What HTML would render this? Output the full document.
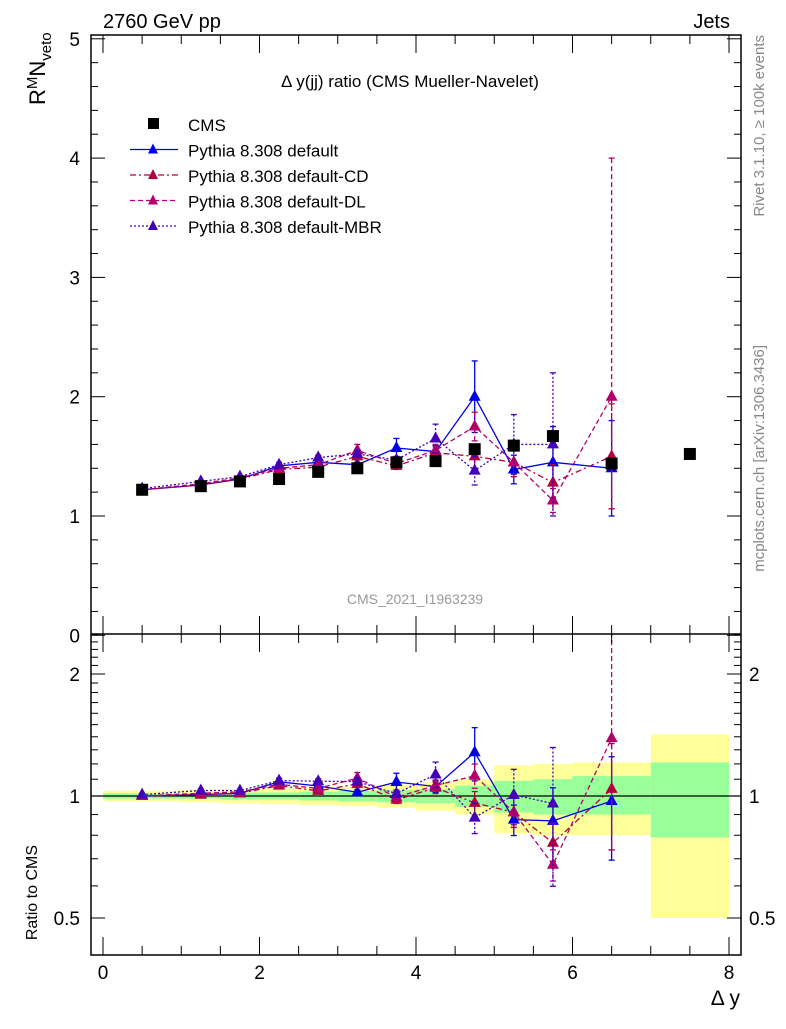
<!DOCTYPE html>
<html><head><meta charset="utf-8"><style>
body{margin:0;background:#fff}
svg text{font-family:"Liberation Sans",sans-serif}
</style></head><body>
<svg id="c" width="786" height="1024" xmlns="http://www.w3.org/2000/svg"></svg>
<script>
const xs=[0.5,1.25,1.75,2.25,2.75,3.25,3.75,4.25,4.75,5.25,5.75,6.5,7.5];
const edges=[0,1,1.5,2,2.5,3,3.5,4,4.5,5,5.5,6,7,8];
const cms=[1.22,1.25,1.29,1.31,1.37,1.40,1.45,1.46,1.56,1.59,1.67,1.44,1.52];
const yellowHi=[0.03,0.035,0.04,0.045,0.05,0.055,0.065,0.08,0.10,0.19,0.20,0.21,0.42];
const yellowLo=[0.03,0.035,0.04,0.045,0.05,0.055,0.065,0.08,0.10,0.19,0.20,0.20,0.50];
const greenHi=[0.015,0.015,0.02,0.02,0.025,0.03,0.035,0.04,0.06,0.09,0.10,0.12,0.21];
const greenLo=[0.015,0.015,0.02,0.02,0.025,0.03,0.035,0.04,0.06,0.09,0.10,0.10,0.21];
const defV=[1.22,1.26,1.31,1.42,1.45,1.43,1.57,1.54,2.00,1.39,1.45,1.40];
const defE=[0.01,0.01,0.01,0.02,0.02,0.02,0.08,0.05,0.30,0.12,0.30,0.40];
const cdV=[1.22,1.26,1.31,1.39,1.41,1.50,1.42,1.53,1.50,1.45,1.28,1.50];
const cdE=[0.01,0.01,0.01,0.02,0.02,0.03,0.03,0.05,0.10,0.12,0.15,0.44];
const dlV=[1.22,1.27,1.32,1.40,1.43,1.55,1.44,1.55,1.75,1.45,1.13,2.00];
const dlE=[0.01,0.01,0.01,0.02,0.02,0.05,0.03,0.05,0.12,0.12,0.10,0.94];
const dlEhi=[0.01,0.01,0.01,0.02,0.02,0.05,0.03,0.05,0.12,0.12,0.10,2.00];
const mbrV=[1.23,1.29,1.33,1.43,1.49,1.52,1.47,1.65,1.38,1.60,1.60];
const mbrE=[0.01,0.01,0.01,0.02,0.02,0.03,0.03,0.12,0.12,0.25,0.60];

const S=document.getElementById('c');const NS='http://www.w3.org/2000/svg';
function el(t,a,p){const e=document.createElementNS(NS,t);for(const k in a)e.setAttribute(k,a[k]);(p||S).appendChild(e);return e;}
const L=91,R=741,T=35,M=634,B=955;
const X=v=>103+v*78.25;
const Y=v=>635.3-v*119.3;
const YR=v=>796-Math.log2(v)*122;
const clipT=el('clipPath',{id:'ct'});el('rect',{x:L,y:T,width:R-L,height:M-T},clipT);
const clipB=el('clipPath',{id:'cb'});el('rect',{x:L,y:M,width:R-L,height:B-M},clipB);

// bands
const gb=el('g',{'clip-path':'url(#cb)'});

for(let i=0;i<xs.length;i++){
 const x0=X(edges[i]),x1=X(edges[i+1]);
 const y=el('rect',{x:x0,y:YR(1+yellowHi[i]),width:x1-x0,height:YR(1-yellowLo[i])-YR(1+yellowHi[i]),fill:'#ffff99'},gb);
 
 const g=el('rect',{x:x0,y:YR(1+greenHi[i]),width:x1-x0,height:YR(1-greenLo[i])-YR(1+greenHi[i]),fill:'#99ff99'},gb);
 
}
el('line',{x1:L,x2:R,y1:YR(1),y2:YR(1),stroke:'#000','stroke-width':1.2},gb);

function series(name,vals,errLo,errHi,color,dash,ratio){
 const g=el('g',{'clip-path':ratio?'url(#cb)':'url(#ct)'});
 
 const f=(v,i)=>ratio?YR(v/cms[i]):Y(v);
 let d='';vals.forEach((v,i)=>{d+=(i?'L':'M')+X(xs[i])+','+f(v,i);});
 el('path',{d,fill:'none',stroke:color,'stroke-width':1.3,'stroke-dasharray':dash},g);
 vals.forEach((v,i)=>{
  const x=X(xs[i]),yt=f(v+errHi[i],i),yb=f(Math.max(v-errLo[i],0.01),i),y=f(v,i);
  el('line',{x1:x,x2:x,y1:yt,y2:yb,stroke:color,'stroke-width':1.3,'stroke-dasharray':dash},g);
  el('line',{x1:x-3,x2:x+3,y1:yt,y2:yt,stroke:color,'stroke-width':1.3},g);
  el('line',{x1:x-3,x2:x+3,y1:yb,y2:yb,stroke:color,'stroke-width':1.3},g);
  const m=el('path',{d:`M${x},${y-7}L${x+6},${y+4}L${x-6},${y+4}Z`,fill:color},g);
  
 });
}
const cB='#0000e6',cCD='#b3003c',cDL='#b3006b',cMB='#4400b8';
[false,true].forEach(r=>{
 series('default',defV,defE,defE,cB,'',r);
 series('default-cd',cdV,cdE,cdE,cCD,'6,3,2,3',r);
 series('default-dl',dlV,dlE,dlEhi,cDL,'5,3',r);
 series('default-mbr',mbrV,mbrE,mbrE,cMB,'2,2',r);
});
const gc=el('g',{});
cms.forEach((v,i)=>{const r=el('rect',{x:X(xs[i])-6,y:Y(v)-6,width:12,height:12,fill:'#000'},gc);
 });

// frames & ticks
el('rect',{x:L,y:T,width:R-L,height:B-T,fill:'none',stroke:'#000','stroke-width':1.5});
el('line',{x1:L,x2:R,y1:M,y2:M,stroke:'#000','stroke-width':1.5});
function txt(s,x,y,size,anchor,extra){const t=el('text',Object.assign({x,y,'font-size':size,'text-anchor':anchor||'start'},extra||{}));t.textContent=s;return t;}
for(let v=0;v<=5.001;v+=0.2){const y=Y(v);const maj=Math.abs(v-Math.round(v))<1e-6;const w=maj?14:7;
 el('line',{x1:L,x2:L+w,y1:y,y2:y,stroke:'#000'});el('line',{x1:R,x2:R-w,y1:y,y2:y,stroke:'#000'});
 if(maj&&y>T-3){const t=txt(String(Math.round(v)),80,y+7,19,'end');}}
for(let v=0.5;v<=2.5001;v+=0.1){const y=YR(v);const maj=[0.5,1,2].some(m=>Math.abs(m-v)<1e-6);const w=maj?14:7;
 el('line',{x1:L,x2:L+w,y1:y,y2:y,stroke:'#000'});el('line',{x1:R,x2:R-w,y1:y,y2:y,stroke:'#000'});}
[['2',2],['1',1],['0.5',0.5]].forEach(([s,v])=>{
 let t=txt(s,80,YR(v)+7,19,'end');
 t=txt(s,749,YR(v)+7,19,'start');});
for(let v=0;v<=8.001;v+=0.5){const x=X(v);const maj=Math.abs(v%2)<1e-6;const w=maj?18:9;
 [T,M,B].forEach(yy=>{ if(yy!==T) el('line',{x1:x,x2:x,y1:yy,y2:yy-w,stroke:'#000'}); if(yy!==B) el('line',{x1:x,x2:x,y1:yy,y2:yy+w,stroke:'#000'});});
 if(maj){const t=txt(String(v),x,979,19,'middle');}}

// texts
let t;
t=txt('2760 GeV pp',103,28,20);
t=txt('Jets',730,28,20,'end');
t=txt('Δ y(jj) ratio (CMS Mueller-Navelet)',410,87,17,'middle');
t=txt('CMS_2021_I1963239',415,604,14,'middle',{fill:'#999'});
t=txt('Δ y',740,1005,21,'end');
t=el('text',{x:0,y:0,'font-size':22,transform:'translate(45,105) rotate(-90)'});t.innerHTML='R<tspan font-size="15" dy="-8">M</tspan><tspan dy="8">N</tspan><tspan font-size="15" dy="6">veto</tspan>';

t=txt('Ratio to CMS',0,0,16,'end',{transform:'translate(37,845) rotate(-90)'});
t=txt('Rivet 3.1.10, ≥ 100k events',0,0,15,'end',{fill:'#888',transform:'translate(764,35) rotate(-90)'});
t=txt('mcplots.cern.ch [arXiv:1306.3436]',0,0,15,'end',{fill:'#888',transform:'translate(764,345) rotate(-90)'});

// legend
const lg=el('g',{});
const ent=[['CMS',null,''],['Pythia 8.308 default',cB,''],['Pythia 8.308 default-CD',cCD,'6,3,2,3'],['Pythia 8.308 default-DL',cDL,'5,3'],['Pythia 8.308 default-MBR',cMB,'2,2']];
ent.forEach((e,i)=>{const y=124+i*25.5;const g=el('g',{},lg);
 
 if(!e[1]) el('rect',{x:148,y:y-6,width:11,height:11,fill:'#000'},g);
 else{el('line',{x1:130,x2:178,y1:y,y2:y,stroke:e[1],'stroke-width':1.3,'stroke-dasharray':e[2]},g);
  el('path',{d:`M153,${y-6}L158,${y+4}L148,${y+4}Z`,fill:e[1]},g);}
 const tt=txt(e[0],188,y+7,17,'start');g.appendChild(tt);});
</script>
</body></html>
